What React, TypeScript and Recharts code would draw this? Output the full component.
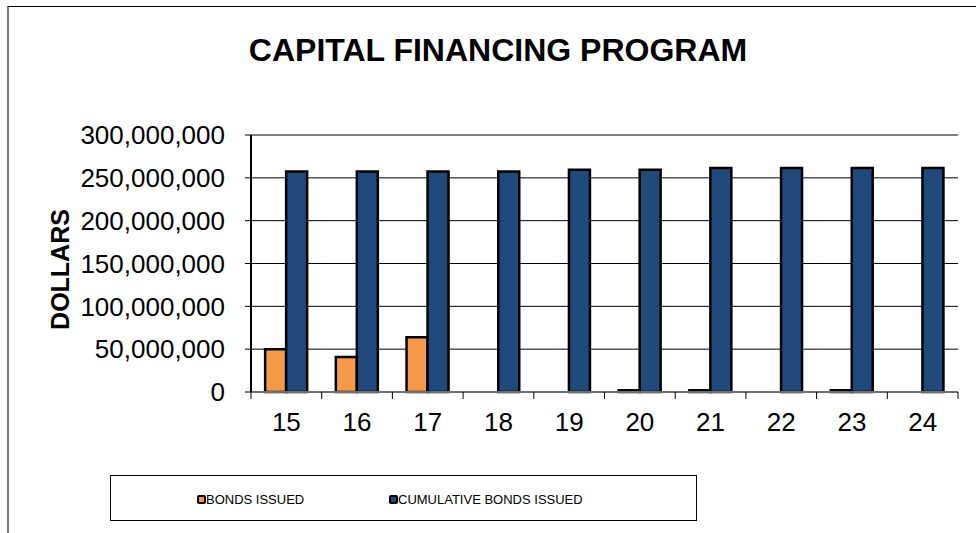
import { Bar, BarChart, CartesianGrid, Label, ReferenceLine, XAxis, YAxis } from "recharts";

const years = ["15", "16", "17", "18", "19", "20", "21", "22", "23", "24"];
const bondsIssued = [50000000, 41000000, 64000000, 0, 0, 2000000, 2000000, 0, 2000000, 0];
const cumulativeBonds = [257500000, 257500000, 257500000, 257500000, 259500000, 259500000, 261500000, 261500000, 261500000, 261500000];
const yTicks = [0, 50000000, 100000000, 150000000, 200000000, 250000000, 300000000];
const seriesNames = ["BONDS ISSUED", "CUMULATIVE BONDS ISSUED"];
const seriesColors = ["#F79A48", "#214A7C"];

const W = 976;
const H = 533;
const PLOT_LEFT = 251;
const PLOT_RIGHT = 958;
const FONT = "'Liberation Sans', Arial, sans-serif";

const data = years.map((year, i) => ({
    year,
    bonds: bondsIssued[i],
    cumulative: cumulativeBonds[i],
}));

const XTick = (props: any) => {
    const { x, y, payload, index } = props;
    const band = (PLOT_RIGHT - PLOT_LEFT) / years.length;
    return (
        <g>
            <line x1={x - band / 2} x2={x - band / 2} y1={y - 21} y2={y - 14} stroke="#000" />
            {index === years.length - 1 && (
                <line x1={x + band / 2} x2={x + band / 2} y1={y - 21} y2={y - 14} stroke="#000" />
            )}
            <text x={x} y={y} dy="0.71em" textAnchor="middle" fontSize={26} fontFamily={FONT} fill="#000">
                {payload.value}
            </text>
        </g>
    );
};

const YTitle = (props: any) => {
    const { viewBox } = props;
    const cx = 69;
    const cy = viewBox.y + viewBox.height / 2 + 6;
    return (
        <text
            x={cx}
            y={cy}
            transform={`rotate(-90 ${cx} ${cy})`}
            textAnchor="middle"
            fontSize={25}
            fontWeight="bold"
            fontFamily={FONT}
            fill="#000"
        >
            DOLLARS
        </text>
    );
};

export default function App() {
    return (
        <div style={{ position: "fixed", left: 0, top: 0, width: W, height: H, overflow: "hidden", background: "#fff" }}>
            <div
                style={{
                    position: "absolute",
                    left: 7,
                    top: 6,
                    width: 1000,
                    height: 600,
                    borderTop: "1px solid #000",
                    borderLeft: "2px solid #808080",
                }}
            />
            <div
                style={{
                    position: "absolute",
                    left: 0,
                    top: 34,
                    width: 996,
                    textAlign: "center",
                    fontFamily: FONT,
                    fontWeight: "bold",
                    fontSize: 32,
                    lineHeight: "32px",
                    color: "#000",
                }}
            >
                CAPITAL FINANCING PROGRAM
            </div>
            <div style={{ position: "absolute", left: 0, top: 0 }}>
                <BarChart
                    width={W}
                    height={H}
                    data={data}
                    margin={{ top: 135, right: W - PLOT_RIGHT, bottom: 111, left: 0 }}
                    barGap={0}
                    barCategoryGap="20%"
                >
                    <CartesianGrid vertical={false} stroke="#000" strokeWidth={1} />
                    <XAxis
                        dataKey="year"
                        height={30}
                        axisLine={{ stroke: "#6f6f6f", strokeWidth: 2 }}
                        tickLine={false}
                        tickSize={0}
                        tickMargin={21}
                        tick={<XTick />}
                        interval={0}
                    />
                    <YAxis
                        width={PLOT_LEFT}
                        domain={[0, 300000000]}
                        ticks={yTicks}
                        interval={0}
                        tickSize={6}
                        tickMargin={20}
                        axisLine={{ stroke: "#000", strokeWidth: 2 }}
                        tickLine={{ stroke: "#000" }}
                        tick={{ fontSize: 26, fontFamily: FONT, fill: "#000" }}
                        tickFormatter={(v: number) => v.toLocaleString("en-US")}
                    >
                        <Label content={<YTitle />} />
                    </YAxis>
                    <YAxis
                        yAxisId="r"
                        orientation="right"
                        width={0}
                        domain={[0, 300000000]}
                        tick={false}
                        tickLine={false}
                        axisLine={{ stroke: "#808080", strokeWidth: 2 }}
                    />
                    <ReferenceLine y={300000000} stroke="#808080" strokeWidth={2} />
                    <Bar dataKey="bonds" name={seriesNames[0]} fill={seriesColors[0]} stroke="#000" strokeWidth={2.5} isAnimationActive={false} />
                    <Bar dataKey="cumulative" name={seriesNames[1]} fill={seriesColors[1]} stroke="#000" strokeWidth={2.5} isAnimationActive={false} />
                </BarChart>
            </div>
            <div
                style={{
                    position: "absolute",
                    left: 110,
                    top: 475,
                    width: 587,
                    height: 46,
                    border: "1px solid #000",
                    boxSizing: "border-box",
                    fontFamily: FONT,
                    fontSize: 13,
                    color: "#000",
                }}
            >
                {seriesNames.map((name, i) => (
                    <div
                        key={name}
                        style={{
                            position: "absolute",
                            left: i === 0 ? 86 : 278,
                            top: 16,
                            display: "flex",
                            alignItems: "center",
                            whiteSpace: "nowrap",
                        }}
                    >
                        <span
                            style={{
                                display: "inline-block",
                                width: 5,
                                height: 5,
                                background: seriesColors[i],
                                border: "2px solid #000",
                                borderRadius: 2,
                                marginRight: 0,
                            }}
                        />
                        {name}
                    </div>
                ))}
            </div>
        </div>
    );
}
